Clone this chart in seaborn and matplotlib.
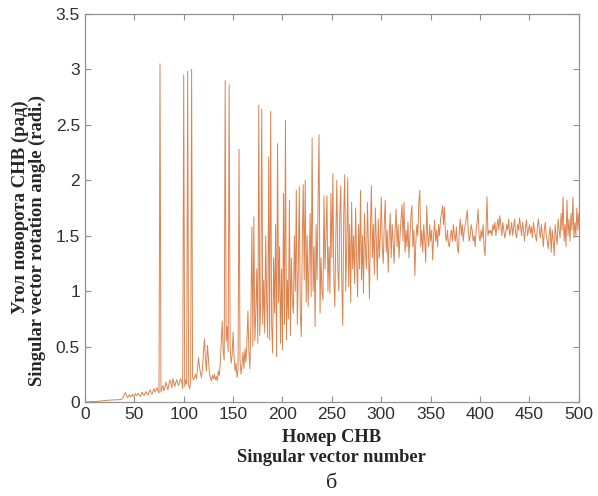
import matplotlib
matplotlib.use("Agg")
import numpy as np
import pandas as pd
import seaborn as sns
import matplotlib.pyplot as plt

# rotation angle of each singular vector (rad), index 1..500
angle_001_050 = [
    0.000, 0.001, 0.001, 0.002, 0.002, 0.003, 0.003, 0.004, 0.004, 0.005,
    0.005, 0.006, 0.006, 0.007, 0.008, 0.008, 0.009, 0.010, 0.011, 0.012,
    0.014, 0.016, 0.015, 0.017, 0.016, 0.018, 0.017, 0.019, 0.018, 0.020,
    0.019, 0.021, 0.020, 0.022, 0.021, 0.023, 0.024, 0.030, 0.045, 0.070,
    0.085, 0.060, 0.040, 0.050, 0.065, 0.045, 0.055, 0.070, 0.050, 0.060,
]
angle_051_110 = [
    0.075, 0.055, 0.065, 0.080, 0.060, 0.050, 0.070, 0.090, 0.065, 0.060,
    0.080, 0.095, 0.070, 0.065, 0.090, 0.110, 0.080, 0.070, 0.100, 0.120,
    0.090, 0.110, 0.130, 0.100, 0.080, 3.050, 0.090, 0.120, 0.150, 0.100,
    0.130, 0.180, 0.140, 0.110, 0.160, 0.200, 0.170, 0.130, 0.210, 0.170,
    0.140, 0.180, 0.200, 0.160, 0.150, 0.190, 0.210, 0.180, 0.120, 2.950,
    0.140, 0.200, 0.160, 2.980, 0.150, 0.120, 0.180, 3.000, 0.220, 0.200,
]
angle_111_170 = [
    0.22, 0.25, 0.21, 0.30, 0.40, 0.31, 0.26, 0.22, 0.30, 0.45,
    0.57, 0.38, 0.28, 0.51, 0.40, 0.26, 0.22, 0.19, 0.24, 0.21,
    0.25, 0.20, 0.23, 0.19, 0.28, 0.24, 0.35, 0.55, 0.73, 0.45,
    0.38, 2.90, 0.55, 0.68, 0.45, 2.86, 0.50, 0.35, 0.42, 0.63,
    0.40, 0.28, 0.35, 0.22, 0.30, 2.28, 0.38, 0.25, 0.33, 0.45,
    0.30, 0.48, 0.36, 0.55, 0.82, 0.45, 0.30, 0.73, 1.58, 0.50,
]
angle_171_260 = [
    1.67, 0.55, 0.80, 1.20, 0.53, 2.68, 0.60, 0.90, 2.64, 0.70,
    1.10, 0.62, 1.50, 0.90, 0.58, 2.21, 0.56, 2.62, 0.70, 0.44,
    1.30, 0.80, 1.60, 0.41, 2.33, 0.90, 1.40, 0.53, 1.20, 0.47,
    1.88, 0.70, 2.54, 0.56, 1.10, 0.75, 1.82, 0.60, 1.30, 0.90,
    0.80, 1.50, 1.00, 1.91, 0.70, 1.20, 1.94, 0.80, 0.59, 1.40,
    1.96, 1.10, 2.00, 0.90, 1.50, 0.86, 1.30, 1.70, 0.95, 2.38,
    1.00, 1.40, 0.68, 1.60, 1.10, 1.80, 2.41, 0.80, 1.30, 1.00,
    0.92, 1.86, 1.20, 1.50, 1.86, 1.00, 1.40, 0.98, 1.88, 1.30,
    2.06, 1.10, 0.86, 1.50, 2.00, 1.20, 1.00, 1.70, 1.95, 1.10,
]
angle_261_380 = [
    0.69, 1.70, 2.05, 1.00, 1.40, 2.02, 1.04, 1.60, 0.90, 1.80,
    1.20, 1.50, 1.07, 1.75, 1.30, 0.95, 1.60, 1.20, 1.91, 1.10,
    1.50, 0.98, 1.70, 1.35, 1.20, 1.80, 1.40, 0.93, 1.55, 1.95,
    1.30, 1.60, 1.15, 1.75, 1.45, 1.10, 1.65, 1.30, 1.50, 1.85,
    1.40, 1.25, 1.60, 1.82, 1.35, 1.55, 1.17, 1.50, 1.70, 1.30,
    1.60, 1.45, 1.25, 1.55, 1.74, 1.40, 1.60, 1.30, 1.50, 1.65,
    1.78, 1.45, 1.80, 1.35, 1.55, 1.40, 1.62, 1.30, 1.50, 1.68,
    1.77, 1.40, 1.55, 1.14, 1.45, 1.60, 1.50, 1.80, 1.91, 1.40,
    1.55, 1.35, 1.60, 1.45, 1.26, 1.77, 1.50, 1.40, 1.60, 1.45,
    1.55, 1.28, 1.50, 1.64, 1.45, 1.55, 1.40, 1.60, 1.50, 1.65,
    1.70, 1.77, 1.60, 1.76, 1.50, 1.45, 1.55, 1.42, 1.40, 1.50,
    1.55, 1.45, 1.60, 1.50, 1.45, 1.58, 1.40, 1.34, 1.55, 1.65,
]
angle_381_500 = [
    1.50, 1.60, 1.45, 1.55, 1.60, 1.65, 1.73, 1.55, 1.45, 1.50,
    1.60, 1.55, 1.45, 1.50, 1.40, 1.55, 1.62, 1.74, 1.50, 1.45,
    1.55, 1.48, 1.60, 1.40, 1.32, 1.55, 1.85, 1.50, 1.55, 1.52,
    1.55, 1.50, 1.60, 1.55, 1.62, 1.50, 1.58, 1.65, 1.55, 1.68,
    1.60, 1.50, 1.62, 1.55, 1.48, 1.52, 1.60, 1.55, 1.65, 1.50,
    1.55, 1.62, 1.50, 1.58, 1.65, 1.52, 1.48, 1.60, 1.55, 1.66,
    1.58, 1.50, 1.62, 1.55, 1.45, 1.58, 1.64, 1.50, 1.55, 1.60,
    1.52, 1.58, 1.48, 1.62, 1.55, 1.50, 1.45, 1.58, 1.65, 1.55,
    1.48, 1.60, 1.52, 1.40, 1.55, 1.62, 1.50, 1.45, 1.38, 1.52,
    1.58, 1.35, 1.55, 1.45, 1.32, 1.60, 1.50, 1.42, 1.65, 1.55,
    1.48, 1.70, 1.55, 1.85, 1.45, 1.60, 1.40, 1.82, 1.50, 1.65,
    1.45, 1.70, 1.55, 1.85, 1.48, 1.62, 1.50, 1.75, 1.55, 1.70,
]

x_ticks = [0, 50, 100, 150, 200, 250, 300, 350, 400, 450, 500]
y_ticks = [0, 0.5, 1, 1.5, 2, 2.5, 3, 3.5]
y_tick_labels = ["0", "0.5", "1", "1.5", "2", "2.5", "3", "3.5"]

angle = (angle_001_050 + angle_051_110 + angle_111_170 + angle_171_260
         + angle_261_380 + angle_381_500)
df = pd.DataFrame({"n": np.arange(1, len(angle) + 1), "angle": angle})

sns.set_style("ticks")
plt.rcParams["font.family"] = ["Liberation Sans", "DejaVu Sans"]

fig = plt.figure(figsize=(5.98, 4.96), dpi=100)
ax = fig.add_axes([0.142, 0.1895, 0.826, 0.7825])

sns.lineplot(data=df, x="n", y="angle", ax=ax, color="#DC8450", linewidth=0.7)

ax.set_xlim(0, 500)
ax.set_ylim(0, 3.5)
ax.set_xticks(x_ticks)
ax.set_yticks(y_ticks)
ax.set_yticklabels(y_tick_labels)
ax.tick_params(direction="in", length=4, width=0.8, colors="#909090",
               labelcolor="#303030", labelsize=12.5, top=True, right=True)
for sp in ax.spines.values():
    sp.set_visible(True)
    sp.set_color("#909090")
    sp.set_linewidth(0.9)
ax.set_xlabel("")
ax.set_ylabel("")

serif = ["Liberation Serif", "DejaVu Serif"]
fig.text(0.555, 1 - 437 / 496, "Номер СНВ", ha="center", va="center",
         family=serif, weight="bold", fontsize=13.3)
fig.text(0.555, 1 - 457 / 496, "Singular vector number", ha="center",
         va="center", family=serif, weight="bold", fontsize=13.3)
fig.text(20 / 598, 1 - 207 / 496, "Угол поворота СНВ (рад)", rotation=90,
         ha="center", va="center", family=serif, weight="bold", fontsize=13.5)
fig.text(37 / 598, 1 - 240 / 496, "Singular vector rotation angle (radi.)",
         rotation=90, ha="center", va="center", family=serif, weight="bold",
         fontsize=13.3)
fig.text(0.555, 1 - 483 / 496, "б", ha="center", va="center",
         family=serif, fontsize=16)

fig.savefig("out.png", dpi=100)
